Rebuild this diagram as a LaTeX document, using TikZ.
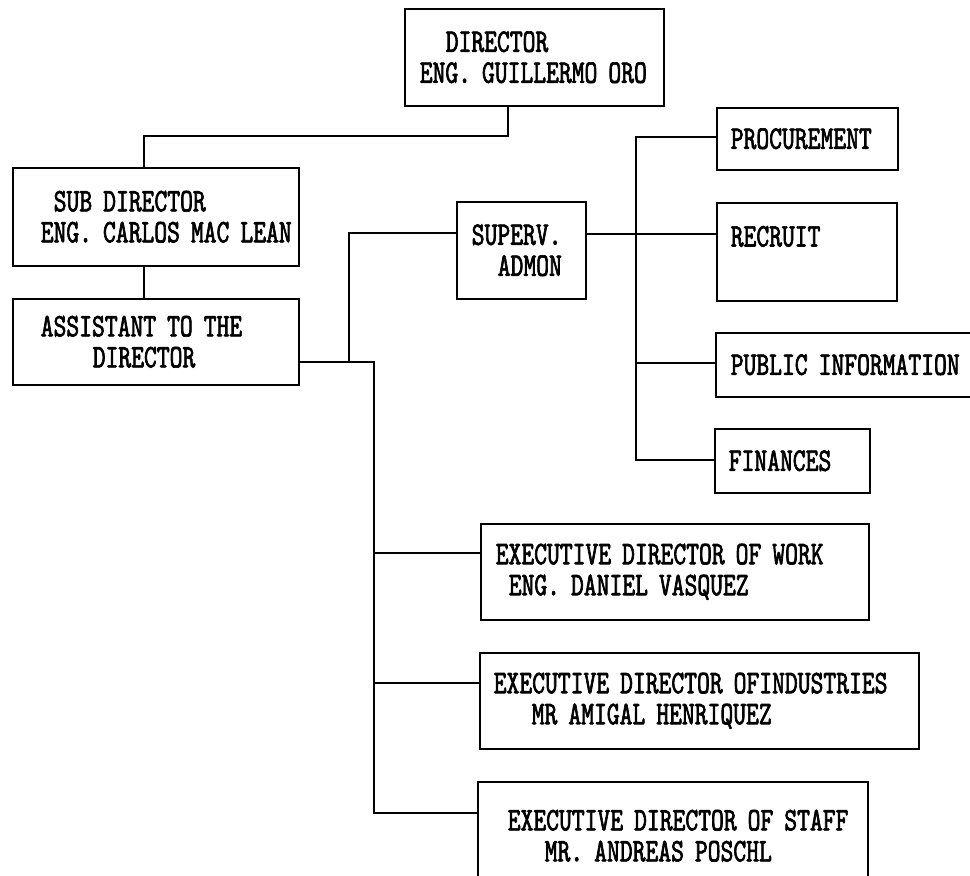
\documentclass[tikz,border=0pt]{standalone}
\usepackage{fontspec}
\newfontfamily\chartfont{lmmono10-regular.otf}[FakeStretch=0.74, FakeBold=2]
\tikzset{
  post/.style={draw, line width=1.5pt, anchor=north west, inner sep=0pt, align=left,
    font=\chartfont\fontsize{33}{31}\selectfont},
  link/.style={line width=1.2pt},
}
\newcommand{\lead}[1]{\hspace*{#1pt}}
\begin{document}
\begin{tikzpicture}[x=1pt, y=-1pt]
    \useasboundingbox (0, 0) rectangle (970, 876);
    \node [post, minimum width=259pt, minimum height=97pt, text width=259pt] (dir) at (404, 8)
      {\lead{41}DIRECTOR\\\lead{15}ENG. GUILLERMO ORO};
    \node [post, minimum width=286pt, minimum height=98pt, text width=286pt] (sub) at (12, 167)
      {\lead{41}SUB DIRECTOR\\\lead{28}ENG. CARLOS MAC LEAN};
    \node [post, minimum width=286pt, minimum height=86pt, text width=286pt] (asst) at (12, 298)
      {\lead{28}ASSISTANT TO THE\\\lead{80}DIRECTOR};
    \node [post, minimum width=129pt, minimum height=97pt, text width=129pt] (sup) at (456, 201)
      {\lead{15}SUPERV.\\\lead{41}ADMON};
    \node [post, minimum width=181pt, minimum height=62pt, text width=181pt] (proc) at (716, 107)
      {\lead{14}PROCUREMENT};
    \node [post, minimum width=180pt, minimum height=98pt, text width=180pt] (recr) at (716, 202)
      {\lead{14}RECRUIT\\~};
    \node [post, minimum width=270pt, minimum height=64pt, text width=270pt] (pub) at (715, 332)
      {\lead{15}PUBLIC INFORMATION};
    \node [post, minimum width=155pt, minimum height=64pt, text width=155pt] (fin) at (714, 428)
      {\lead{14}FINANCES};
    \node [post, minimum width=388pt, minimum height=96pt, text width=388pt] (work) at (480, 523)
      {\lead{15}EXECUTIVE DIRECTOR OF WORK\\\lead{28}ENG. DANIEL VASQUEZ};
    \node [post, minimum width=439pt, minimum height=96pt, text width=439pt] (ind) at (479, 652)
      {\lead{14}EXECUTIVE DIRECTOR OFINDUSTRIES\\\lead{52}MR AMIGAL HENRIQUEZ};
    \node [post, minimum width=390pt, minimum height=108pt, text width=390pt] (staff) at (477, 781)
      {\lead{30}EXECUTIVE DIRECTOR OF STAFF\\\lead{67}MR. ANDREAS POSCHL};
    \coordinate (d1) at (508, 136);
    \coordinate (d2) at (144, 136);
    \draw [link] (dir.south -| d1) -- (d1) -- (d2) -- (d2 |- sub.north);
    \draw [link] (sub.south -| d2) -- (d2 |- asst.north);
    \coordinate (a1) at (349, 362);
    \coordinate (a2) at (374, 362);
    \coordinate (a3) at (349, 233);
    \coordinate (w1) at (374, 553);
    \coordinate (w2) at (374, 683);
    \coordinate (w3) at (374, 813);
    \draw [link] (asst.east |- a1) -- (a2) -- (w3) -- (w3 -| staff.west);
    \draw [link] (w1) -- (w1 -| work.west);
    \draw [link] (w2) -- (w2 -| ind.west);
    \draw [link] (a1) -- (a3) -- (a3 -| sup.west);
    \coordinate (s0) at (636, 137);
    \coordinate (s1) at (636, 234);
    \coordinate (s2) at (636, 363);
    \coordinate (s3) at (636, 460);
    \draw [link] (sup.east |- s1) -- (s1 -| recr.west);
    \draw [link] (s0 -| proc.west) -- (s0) -- (s3) -- (s3 -| fin.west);
    \draw [link] (s2) -- (s2 -| pub.west);
  \end{tikzpicture}
\end{document}
